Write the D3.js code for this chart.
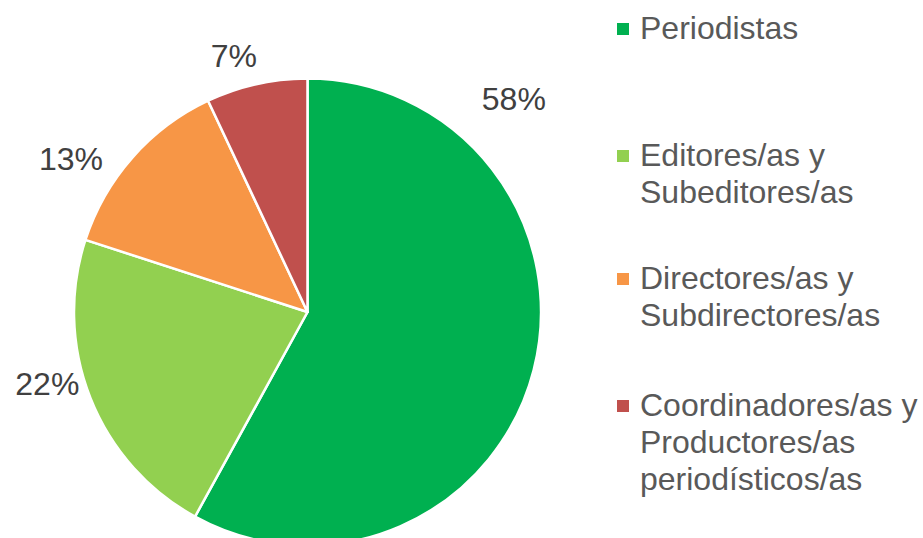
<!DOCTYPE html>
<html>
<head>
    <script src="https://d3js.org/d3.v7.min.js"></script>
    <style>
        body { margin: 0; background: #fff; }
        .pct { font-family: "Liberation Sans", Arial, sans-serif; font-size: 32px; fill: #404040; }
        .legend-text { font-family: "Liberation Sans", Arial, sans-serif; font-size: 32px; fill: #595959; }
    </style>
</head>
<body>
    <svg width="923" height="538"></svg>

    <script>
        // Chart data
        const categories = [
            ["Periodistas"],
            ["Editores/as y", "Subeditores/as"],
            ["Directores/as y", "Subdirectores/as"],
            ["Coordinadores/as y", "Productores/as", "periodísticos/as"]
        ];
        const values = [58, 22, 13, 7];
        const colors = ["#00B050", "#92D050", "#F79646", "#C0504D"];

        const svg = d3.select("svg");

        const cx = 307.5, cy = 312, radius = 233.5;

        const pie = d3.pie().sort(null).value(d => d);
        const arcs = pie(values);
        const arc = d3.arc().innerRadius(0).outerRadius(radius);

        const g = svg.append("g").attr("transform", `translate(${cx},${cy})`);

        g.selectAll("path")
            .data(arcs)
            .enter().append("path")
            .attr("d", arc)
            .attr("fill", (d, i) => colors[i])
            .attr("stroke", "#fff")
            .attr("stroke-width", 2.5)
            .attr("stroke-linejoin", "round");

        // best-fit label placement (angle in degrees clockwise from top, distance from centre)
        const labelPlace = [
            { angle: 44, dist: 297 },
            { angle: 254.5, dist: 270 },
            { angle: 303, dist: 282 },
            { angle: 344, dist: 267 }
        ];

        g.selectAll("text.pct")
            .data(arcs)
            .enter().append("text")
            .attr("class", "pct")
            .attr("text-anchor", "middle")
            .attr("dy", "0.35em")
            .attr("x", (d, i) => labelPlace[i].dist * Math.sin(labelPlace[i].angle * Math.PI / 180))
            .attr("y", (d, i) => -labelPlace[i].dist * Math.cos(labelPlace[i].angle * Math.PI / 180))
            .text(d => d.data + "%");

        // Legend
        const legendTop = [39, 166, 289, 416];
        const lineH = 37;

        const legend = svg.append("g")
            .selectAll("g")
            .data(categories)
            .enter().append("g")
            .attr("transform", (d, i) => `translate(617,${legendTop[i]})`);

        legend.append("rect")
            .attr("x", 0)
            .attr("y", -16)
            .attr("width", 12)
            .attr("height", 12)
            .attr("fill", (d, i) => colors[i]);

        legend.append("text")
            .attr("class", "legend-text")
            .attr("x", 23)
            .selectAll("tspan")
            .data(d => d)
            .enter().append("tspan")
            .attr("x", 23)
            .attr("y", (d, j) => j * lineH)
            .text(d => d);
    </script>
</body>
</html>
